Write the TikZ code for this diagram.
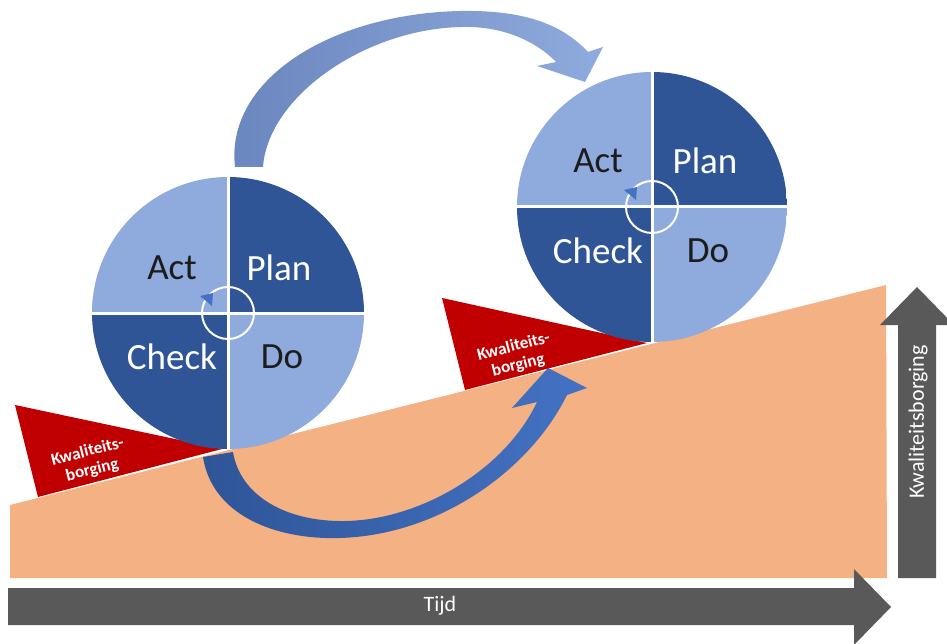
\documentclass[tikz,border=0pt]{standalone}
\usepackage{fontspec}
\setmainfont{Carlito}
\usepackage{tikz}

\definecolor{pdcalight}{HTML}{8FAADC}
\definecolor{pdcadark}{HTML}{2F5597}
\definecolor{pdcamid}{HTML}{4472C4}
\definecolor{arcdark}{HTML}{6A86BE}
\definecolor{borgred}{HTML}{C00000}
\definecolor{slopeorange}{HTML}{F4B183}
\definecolor{axisgray}{HTML}{595959}
\definecolor{labeldark}{HTML}{1C1C1C}

\tikzset{
  wheel/.style={circle, inner sep=0pt, minimum size=272pt},
  quadlabel/.style={font=\fontsize{37}{40}\selectfont, inner sep=0pt},
  borglabel/.style={font=\bfseries\fontsize{17}{19}\selectfont, text=white, align=center, rotate=14, inner sep=0pt},
  axislabel/.style={font=\fontsize{22}{24}\selectfont, text=white, inner sep=0pt},
  divider/.style={white, line width=3pt},
  ring/.style={white, line width=2pt}
}

\begin{document}
\begin{tikzpicture}[x=1pt,y=-1pt]
  \useasboundingbox (0,0) rectangle (947,644);
  \shade [left color=arcdark, right color=pdcalight] (235,167) .. controls (225,80) and (330,14) .. (460,11) .. controls (520,10) and (560,22) .. (588,52) -- (603,47) -- (585,82) -- (537,66) -- (556,62) .. controls (540,45) and (510,28) .. (470,27) .. controls (370,25) and (268,95) .. (263,167) -- cycle;
  \fill [slopeorange] (10,505) -- (886,285) -- (887,578) -- (10,578) -- cycle;
  \shade [left color=pdcadark, right color=pdcamid] (203,457) .. controls (212,515) and (275,540) .. (340,538) .. controls (440,535) and (530,470) .. (567,395) -- (587,388) -- (548,368) -- (512,408) -- (537,402) .. controls (505,470) and (420,520) .. (345,521) .. controls (285,522) and (240,495) .. (233,452) -- cycle;
  \fill [borgred] (15,405) -- (222,449) -- (38,497) -- cycle;
  \fill [borgred] (442,298) -- (647,343) -- (465,390) -- cycle;
  \node [borglabel] at (90,461) (borgA) {Kwaliteits-\\borging};
  \node [borglabel] at (516,356) (borgB) {Kwaliteits-\\borging};

  \node [wheel] at (228,313) (wheelA) {};
  \begin{scope}
    \clip (228,313) circle (136);
    \fill [pdcalight] (92,177) rectangle (228,313);
    \fill [pdcadark] (228,177) rectangle (364,313);
    \fill [pdcadark] (92,313) rectangle (228,449);
    \fill [pdcalight] (228,313) rectangle (364,449);
  \end{scope}
  \draw [divider] (wheelA.north) -- (wheelA.south);
  \draw [divider] (wheelA.west) -- (wheelA.east);
  \draw [ring] (wheelA.center) circle (26);
  \fill [pdcamid] (200,296) -- (213,293) -- (212,306) -- cycle;
  \node [quadlabel, text=labeldark] at (172,268) (actA) {Act};
  \node [quadlabel, text=white] at (279,268) (planA) {Plan};
  \node [quadlabel, text=white] at (172,357) (checkA) {Check};
  \node [quadlabel, text=labeldark] at (282,357) (doA) {Do};

  \node [wheel] at (652,207) (wheelB) {};
  \begin{scope}
    \clip (652,207) circle (135);
    \fill [pdcalight] (517,72) rectangle (652,207);
    \fill [pdcadark] (652,72) rectangle (787,207);
    \fill [pdcadark] (517,207) rectangle (652,342);
    \fill [pdcalight] (652,207) rectangle (787,342);
  \end{scope}
  \draw [divider] (wheelB.north) -- (wheelB.south);
  \draw [divider] (wheelB.west) -- (wheelB.east);
  \draw [ring] (wheelB.center) circle (26);
  \fill [pdcamid] (624,190) -- (637,187) -- (636,200) -- cycle;
  \node [quadlabel, text=labeldark] at (598,161) (actB) {Act};
  \node [quadlabel, text=white] at (705,161) (planB) {Plan};
  \node [quadlabel, text=white] at (598,251) (checkB) {Check};
  \node [quadlabel, text=labeldark] at (708,251) (doB) {Do};

  \fill [axisgray] (8,588) -- (854,588) -- (854,569) -- (891,607) -- (854,645) -- (854,625) -- (8,625) -- cycle;
  \fill [axisgray] (898,578) -- (898,325) -- (880,325) -- (917,287) -- (954,325) -- (936,325) -- (936,578) -- cycle;
  \node [axislabel] at (440,606) (tijd) {Tijd};
  \node [axislabel, rotate=90] at (918,422) (borging) {Kwaliteitsborging};
\end{tikzpicture}
\end{document}
